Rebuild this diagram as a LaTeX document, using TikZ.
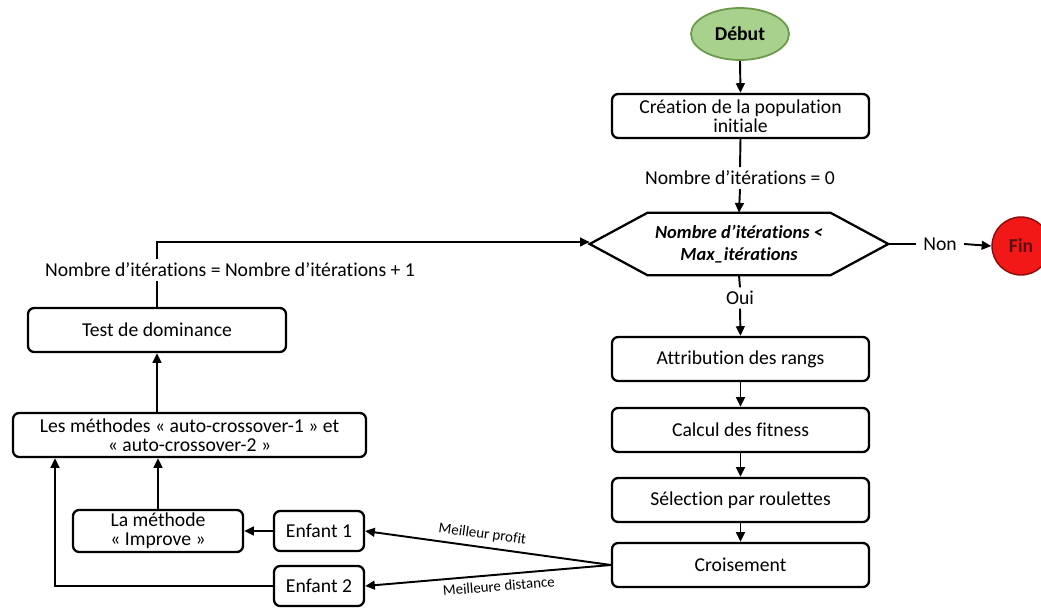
\documentclass[tikz,border=0pt]{standalone}
\usepackage{fontspec}
\setmainfont{Carlito}[Ligatures=NoCommon]
\usetikzlibrary{shapes.geometric,arrows.meta,calc}
\definecolor{debfill}{HTML}{A9D18E}
\definecolor{debdraw}{HTML}{6A9A4A}
\definecolor{finfill}{HTML}{F21818}
\definecolor{finText}{HTML}{5A1010}
\begin{document}
\begin{tikzpicture}[x=0.02cm,y=-0.02cm,
  font=\fontsize{11.2}{13}\selectfont,
  box/.style={draw, line width=1.3pt, rounded corners=3.5pt, inner sep=0pt, align=center,
    minimum width=5.14cm, minimum height=0.88cm},
  lbl/.style={inner sep=2pt, align=center},
  arr/.style={line width=1.1pt, -{Triangle[length=5.5pt,width=5pt]}},
  ln/.style={line width=1.1pt}]
\useasboundingbox (0,0) rectangle (1041,608);
% right column
\node[ellipse, draw=debdraw, fill=debfill, line width=1pt, minimum width=1.96cm, minimum height=1.04cm, inner sep=0pt, font=\fontsize{11.2}{13}\selectfont\bfseries] (deb) at (740,34) {Début};
\node[box] (crea) at (740.5,116) {Création de la population\\[-2pt]initiale};
\node[lbl] (n0) at (740,178) {Nombre d’itérations = 0};
\node[inner sep=0pt, minimum width=5.96cm, minimum height=1.24cm, align=center,
  font=\fontsize{10.5}{12.5}\selectfont\bfseries\itshape] (dia) at (739,244) {Nombre d’itérations <\\Max\_itérations};
\draw[line width=1.3pt] (dia.west) -- ($(dia.north west)+(58,0)$) -- ($(dia.north east)+(-58,0)$) -- (dia.east) -- ($(dia.south east)+(-58,0)$) -- ($(dia.south west)+(58,0)$) -- cycle;
\node[lbl, inner xsep=4pt] (non) at (940,244) {Non};
\node[circle, draw=finText!70!red, fill=finfill, line width=0.8pt, minimum size=1.16cm, inner sep=0pt, text=finText, font=\fontsize{11.2}{13}\selectfont\bfseries] (fin) at (1021,246) {Fin};
\node[lbl] (oui) at (740,298) {Oui};
\node[box] (attr) at (740.5,359) {Attribution des rangs};
\node[box] (calc) at (740.5,430) {Calcul des fitness};
\node[box] (sel) at (740.5,500) {Sélection par roulettes};
\node[box] (crois) at (740.5,565) {Croisement};
% left column
\node[lbl] (inc) at (230,270) {Nombre d’itérations = Nombre d’itérations + 1};
\node[box, minimum width=5.16cm] (test) at (157,330) {Test de dominance};
\node[box, minimum width=7.06cm] (meth) at (189.5,435) {Les méthodes « auto-crossover-1 » et\\[-2pt]« auto-crossover-2 »};
\node[box, minimum width=3.4cm, minimum height=0.84cm] (imp) at (158,531) {La méthode\\[-2pt]« Improve »};
\node[box, minimum width=1.8cm, minimum height=0.8cm] (enf1) at (319,531) {Enfant 1};
\node[box, minimum width=1.8cm, minimum height=0.8cm] (enf2) at (319,586) {Enfant 2};
\coordinate (kx) at (55,0);
% connectors
\draw[arr] (deb.south) -- (crea.north);
\draw[ln] (crea.south) -- (n0.north);
\draw[arr] (n0.south) -- (dia.north);
\draw[ln] (dia.east) -- (non.west);
\draw[arr] (non.east) -- (fin.west);
\draw[ln] (dia.south) -- (oui.north);
\draw[arr] (oui.south) -- (attr.north);
\draw[arr] (attr.south) -- (calc.north);
\draw[arr] (calc.south) -- (sel.north);
\draw[arr] (sel.south) -- (crois.north);
\draw[arr] (crois.west) -- node[sloped, above, pos=0.53, inner sep=3pt, font=\fontsize{8.5}{9}\selectfont] {Meilleur profit} (enf1.east);
\draw[arr] (crois.west) -- node[sloped, below, pos=0.46, inner sep=3pt, font=\fontsize{8.5}{9}\selectfont] {Meilleure distance} (enf2.east);
\draw[arr] (enf1.west) -- (imp.east);
\draw[arr] (imp.north) -- (imp.north |- meth.south);
\draw[arr] (enf2.west) -| (kx |- meth.south);
\draw[arr] (test.south |- meth.north) -- (test.south);
\draw[ln] (test.north) -- (test.north |- inc.south);
\draw[arr] (test.north |- inc.north) |- ($(dia.west)+(0,-2)$);
\end{tikzpicture}
\end{document}
